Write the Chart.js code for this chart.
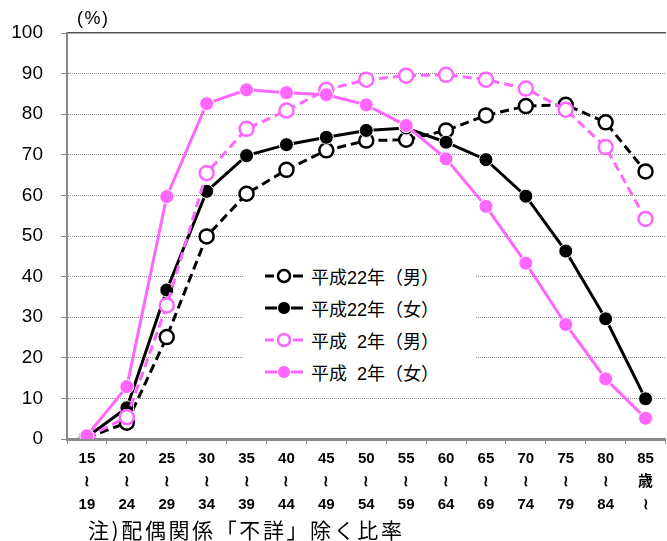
<!DOCTYPE html>
<html>
<head>
<meta charset="utf-8">
<script src="https://cdn.jsdelivr.net/npm/chart.js@4.4.1/dist/chart.umd.min.js"></script>
<style>
  html, body { margin: 0; padding: 0; background: #fff; overflow: hidden; }
  #wrap { position: relative; width: 667px; height: 541px; overflow: hidden; background: #fff; }
  #c { position: absolute; left: 0; top: 0; }
  #unit { position: absolute; left: 77px; top: 8px; font: 18px 'Liberation Sans', 'Noto Sans CJK JP', sans-serif; letter-spacing: 1.5px; color: #000; }
  #legend { position: absolute; left: 243px; top: 254px; width: 233px; height: 134px; background: #fff; }
  .row { position: absolute; left: 0; height: 24px; display: flex; align-items: center; }
  .row svg { margin-left: 21px; }
  .row span { margin-left: 7px; font: 18px 'Liberation Sans', 'Noto Sans CJK JP', sans-serif; color: #000; white-space: pre; }
  #note { position: absolute; left: 88px; top: 514px; font: 21px 'Noto Sans CJK JP', sans-serif; letter-spacing: 2.6px; color: #000; white-space: nowrap; }
</style>
</head>
<body>
<div id="wrap">
  <canvas id="c" width="675" height="541"></canvas>
  <div id="unit">(%)</div>
  <div id="legend"></div>
  <div id="note">注)配偶関係「不詳」除く比率</div>
</div>
<script>
// ---- Data ----
const ageFrom = ['15','20','25','30','35','40','45','50','55','60','65','70','75','80','85'];
const ageMid  = ['≀','≀','≀','≀','≀','≀','≀','≀','≀','≀','≀','≀','≀','≀','歳'];
const ageTo   = ['19','24','29','34','39','44','49','54','59','64','69','74','79','84','≀'];

const h22Male   = [0.3, 4.0, 25.1, 49.9, 60.4, 66.3, 71.1, 73.5, 73.7, 76.0, 79.7, 82.0, 82.3, 78.0, 65.9];
const h22Female = [0.5, 7.7, 36.7, 61.0, 69.8, 72.5, 74.3, 76.0, 76.6, 73.1, 68.8, 59.8, 46.3, 29.6, 9.9];
const h2Male    = [0.4, 5.4, 32.9, 65.5, 76.4, 80.9, 86.0, 88.5, 89.5, 89.7, 88.5, 86.3, 81.1, 71.9, 54.2];
const h2Female  = [0.8, 12.9, 59.7, 82.6, 86.0, 85.3, 84.8, 82.3, 77.2, 69.0, 57.3, 43.3, 28.2, 14.8, 5.1];

const seriesNames = ['平成22年（男）', '平成22年（女）', '平成\u20072年（男）', '平成\u20072年（女）'];
const yTicks = [0, 10, 20, 30, 40, 50, 60, 70, 80, 90, 100];

// ---- Styles ----
const BLACK = '#000000';
const PINK = '#FF66FF';
const styles = [
  { color: BLACK, dashed: true,  filled: false },
  { color: BLACK, dashed: false, filled: true  },
  { color: PINK,  dashed: true,  filled: false },
  { color: PINK,  dashed: false, filled: true  }
];
const seriesValues = [h22Male, h22Female, h2Male, h2Female];
const labels = ageFrom.map((a, i) => [a, ageMid[i], ageTo[i]]);

const datasets = seriesValues.map((vals, i) => {
  const s = styles[i];
  return {
    label: seriesNames[i],
    data: vals,
    borderColor: s.color,
    borderWidth: 3,
    borderDash: s.dashed ? [9, 5] : [],
    pointRadius: 7,
    pointBorderWidth: s.filled ? 1 : 2.5,
    pointBorderColor: s.filled ? '#ffffff' : s.color,
    pointBackgroundColor: s.filled ? s.color : '#ffffff',
    tension: 0,
    fill: false,
    order: 3 - i
  };
});

const chart = new Chart(document.getElementById('c'), {
  type: 'line',
  data: { labels: labels, datasets: datasets },
  options: {
    responsive: false,
    devicePixelRatio: 1,
    animation: false,
    layout: { padding: { top: 33, left: 0, right: 0, bottom: 0 } },
    plugins: { legend: { display: false }, tooltip: { enabled: false } },
    scales: {
      x: {
        type: 'category',
        position: 'bottom',
        offset: true,
        grid: { display: true, offset: true, drawOnChartArea: false, drawTicks: true, tickLength: 5, tickColor: '#888', tickWidth: 1 },
        border: { display: true, color: '#8a8a8a', width: 3 },
        ticks: {
          autoSkip: false, maxRotation: 0, minRotation: 0, padding: 3,
          color: '#000',
          font: { family: "'Liberation Sans', 'Noto Sans CJK JP', sans-serif", size: 15, weight: 'bold', lineHeight: '23px' }
        },
        afterFit: (s) => { s.height = 102; }
      },
      xt: {
        type: 'linear',
        position: 'top',
        grid: { display: false, drawTicks: false },
        ticks: { display: false },
        border: { display: true, color: '#555', width: 1.5 },
        afterFit: (s) => { s.height = 0; }
      },
      y: {
        min: 0, max: 100,
        afterBuildTicks: (s) => { s.ticks = yTicks.map(v => ({ value: v })); },
        grid: {
          color: (ctx) => (ctx.tick && (ctx.tick.value === 0 || ctx.tick.value === 100)) ? 'rgba(0,0,0,0)' : '#8c8c8c',
          lineWidth: 1,
          drawTicks: true, tickLength: 6, tickColor: '#888', tickWidth: 1
        },
        border: { display: true, color: '#888', width: 2, dash: [1, 1] },
        ticks: {
          padding: 18,
          color: '#000',
          font: { family: "'Liberation Sans', sans-serif", size: 19 }
        },
        afterFit: (s) => { s.width = 67; }
      }
    }
  }
});

// ---- HTML legend built from the series arrays ----
const legend = document.getElementById('legend');
const rowCenters = [22, 54, 86, 118];
seriesNames.forEach((name, i) => {
  const s = styles[i];
  const row = document.createElement('div');
  row.className = 'row';
  row.style.top = (rowCenters[i] - 12) + 'px';
  const fill = s.filled ? s.color : '#ffffff';
  const stroke = s.filled ? '#ffffff' : s.color;
  const sw = s.filled ? 1 : 2.5;
  row.innerHTML =
    '<svg width="40" height="20" viewBox="0 0 40 20">' +
    (s.dashed
      ? '<line x1="1" y1="10" x2="10" y2="10" stroke="' + s.color + '" stroke-width="3"/>' +
        '<line x1="29" y1="10" x2="39" y2="10" stroke="' + s.color + '" stroke-width="3"/>'
      : '<line x1="1" y1="10" x2="39" y2="10" stroke="' + s.color + '" stroke-width="3"/>') +
    '<circle cx="20" cy="10" r="' + (s.filled ? 6.5 : 6) + '" fill="' + fill + '" stroke="' + stroke + '" stroke-width="' + sw + '"/>' +
    '</svg><span>' + name + '</span>';
  legend.appendChild(row);
});
</script>
</body>
</html>
